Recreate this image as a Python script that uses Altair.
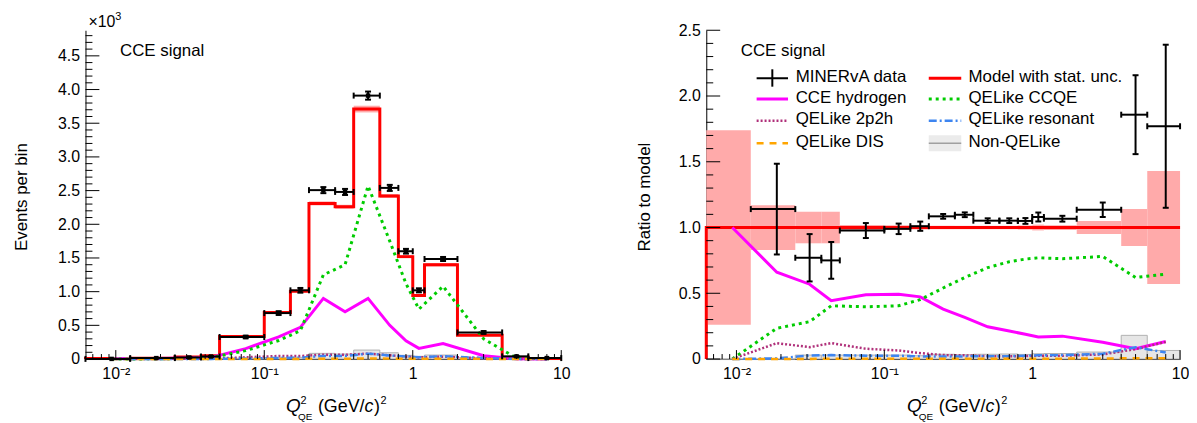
import altair as alt
import pandas as pd

FONT = "Liberation Sans"

# ---------------- data ----------------
edges = [0.00625, 0.0125, 0.025, 0.0375, 0.05, 0.1, 0.15, 0.2, 0.3, 0.4,
         0.6, 0.8, 1.0, 1.2, 2.0, 4.0, 6.0, 10.0]
centers = [0.009375, 0.01875, 0.03125, 0.04375, 0.075, 0.125, 0.175, 0.25,
           0.35, 0.5, 0.7, 0.9, 1.1, 1.6, 3.0, 5.0, 8.0]

# left panel, events per bin (x10^3)
model = [0.008, 0.012, 0.030, 0.050, 0.335, 0.689, 1.007, 2.31, 2.26, 3.71,
         2.42, 1.52, 0.944, 1.40, 0.354, 0.022, 0.008]
model_err = [0.006, 0.002, 0.004, 0.006, 0.007, 0.012, 0.015, 0.03, 0.03, 0.05,
             0.03, 0.025, 0.02, 0.025, 0.012, 0.003, 0.003]
data = [0.002, 0.0137, 0.023, 0.0375, 0.327, 0.682, 1.02, 2.507, 2.48, 3.91,
        2.54, 1.60, 1.02, 1.485, 0.395, 0.04, 0.014]
data_err = [0.002, 0.004, 0.005, 0.006, 0.019, 0.028, 0.035, 0.045, 0.045, 0.06,
            0.045, 0.035, 0.03, 0.03, 0.02, 0.007, 0.005]
hydrogen = [0.008, 0.008, 0.017, 0.022, 0.155, 0.33, 0.47, 0.90, 0.70, 0.90,
            0.50, 0.27, 0.158, 0.23, 0.05, 0.004, 0.001]
ccqe = [0.0, 0.003, 0.009, 0.02, 0.125, 0.275, 0.42, 1.25, 1.40, 2.57,
        1.75, 1.12, 0.74, 1.08, 0.30, 0.014, 0.005]
twop2h = [0.0, 0.0015, 0.003, 0.006, 0.026, 0.045, 0.045, 0.065, 0.063, 0.08,
          0.055, 0.035, 0.024, 0.035, 0.012, 0.0017, 0.001]
resonant = [0.0, 0.0, 0.001, 0.0015, 0.008, 0.017, 0.02, 0.046, 0.045, 0.08,
            0.053, 0.038, 0.026, 0.042, 0.014, 0.002, 0.0004]
dis = [0.0, 0.0, 0.0, 0.0, 0.001, 0.002, 0.002, 0.005, 0.005, 0.008,
       0.006, 0.004, 0.003, 0.005, 0.002, 0.0002, 0.0001]
nonqe = [0.0, 0.0, 0.001, 0.002, 0.01, 0.02, 0.025, 0.084, 0.074, 0.133,
         0.093, 0.055, 0.04, 0.059, 0.019, 0.004, 0.0005]

# right panel, ratio to model
r_model = [1.0, 1.0, 1.0, 1.0, 1.0, 1.0, 1.0, 1.0, 1.0, 1.0, 1.0, 1.0, 1.0,
           1.0, 1.0, 1.0, 1.0]
r_band = [0.74, 0.17, 0.12, 0.12, 0.02, 0.018, 0.015, 0.013, 0.013, 0.013,
          0.013, 0.016, 0.022, 0.018, 0.05, 0.14, 0.43]
r_data = [float("nan"), 1.14, 0.77, 0.75, 0.977, 0.99, 1.01, 1.085, 1.097, 1.052,
          1.052, 1.05, 1.08, 1.067, 1.135, 1.858, 1.77]
r_data_err = [float("nan"), 0.345, 0.18, 0.14, 0.057, 0.04, 0.035, 0.018, 0.018,
              0.018, 0.018, 0.022, 0.034, 0.022, 0.055, 0.30, 0.62]
r_hydrogen = [1.0, 0.66, 0.569, 0.443, 0.488, 0.493, 0.473, 0.38, 0.317, 0.245,
              0.213, 0.188, 0.167, 0.174, 0.128, 0.078, 0.133]
r_ccqe = [0.0, 0.234, 0.284, 0.405, 0.397, 0.405, 0.452, 0.54, 0.62, 0.695,
          0.74, 0.76, 0.77, 0.763, 0.78, 0.62, 0.645]
r_2p2h = [0.0, 0.121, 0.09, 0.121, 0.078, 0.065, 0.045, 0.03, 0.028, 0.022,
          0.022, 0.022, 0.025, 0.025, 0.035, 0.075, 0.13]
r_res = [0.0, 0.005, 0.027, 0.03, 0.025, 0.025, 0.02, 0.02, 0.02, 0.022,
         0.022, 0.025, 0.028, 0.03, 0.04, 0.09, 0.05]
r_dis = [0.0, 0.0, 0.001, 0.002, 0.002, 0.002, 0.002, 0.002, 0.002, 0.002,
         0.002, 0.002, 0.003, 0.003, 0.004, 0.006, 0.006]
r_nonqe = [0.0, 0.0, 0.03, 0.03, 0.03, 0.03, 0.025, 0.036, 0.033, 0.036,
           0.038, 0.035, 0.04, 0.042, 0.053, 0.18, 0.065]

# tick positions
x_major = [0.01, 0.1, 1, 10]
x_minor = [0.007, 0.008, 0.009, 0.02, 0.03, 0.04, 0.05, 0.06, 0.07, 0.08, 0.09,
           0.2, 0.3, 0.4, 0.5, 0.6, 0.7, 0.8, 0.9, 2, 3, 4, 5, 6, 7, 8, 9]
yl_major = [0, 0.5, 1.0, 1.5, 2.0, 2.5, 3.0, 3.5, 4.0, 4.5]
yl_minor = [round(0.1 * i, 1) for i in range(0, 49)]
yr_major = [0, 0.5, 1.0, 1.5, 2.0, 2.5]
yr_minor = [round(0.1 * i, 1) for i in range(0, 26)]

# ---------------- layout / style ----------------
WL, WR, H = 479, 477, 331
RED = "#ff0000"
BAND = "#ffaaaa"
MAG = "#ff00ff"
GREEN = "#00cc00"
PURPLE = "#b0307a"
BLUE = "#3d85f0"
ORANGE = "#ffa500"
GFILL = "#e6e6e6"
GLINE = "#b0b0b0"

SUP2 = "\u00b2"
SUPM = "\u207b"
SUP1 = "\u00b9"

xscale = alt.Scale(type="log", domain=[edges[0], edges[-1]], nice=False)
xaxis = alt.Axis(
    values=x_major,
    labelExpr=("datum.value < 0.05 ? '10" + SUPM + SUP2 + "' : datum.value < 0.5 ? '10"
               + SUPM + SUP1 + "' : datum.value < 5 ? '1' : '10'"),
    ticks=False, grid=False, title=None, domainColor="black", domainWidth=1,
    labelFontSize=16, labelFont=FONT, labelColor="black", labelPadding=7,
    labelFlush=False, labelOverlap=False,
)

dummy = pd.DataFrame({"a": [0]})


def xenc(f):
    return alt.X(f"{f}:Q", scale=xscale, axis=xaxis)


def step_df(vals):
    rows = [{"x": edges[0], "y": 0.0, "o": 0}]
    k = 1
    for i, v in enumerate(vals):
        rows.append({"x": edges[i], "y": v, "o": k})
        rows.append({"x": edges[i + 1], "y": v, "o": k + 1})
        k += 2
    return pd.DataFrame(rows)


def text(t, x, y, size=17, align="left", baseline="middle", angle=0, style="normal"):
    kw = dict(text=t, align=align, baseline=baseline, fontSize=size, font=FONT,
              color="black", fontStyle=style)
    if angle:
        kw["angle"] = angle
    return alt.Chart(dummy).mark_text(**kw).encode(x=alt.value(x), y=alt.value(y))


def xtitle(x0, yb):
    return [
        text("Q", x0, yb, size=19, baseline="alphabetic", style="italic"),
        text("2", x0 + 14.5, yb - 8, size=11, baseline="alphabetic"),
        text("QE", x0 + 12, yb + 8, size=10, baseline="alphabetic"),
        text("(GeV/", x0 + 32, yb, size=18, baseline="alphabetic"),
        text("c", x0 + 79, yb, size=18, baseline="alphabetic", style="italic"),
        text(")", x0 + 88.5, yb, size=18, baseline="alphabetic"),
        text("2", x0 + 95, yb - 8, size=11, baseline="alphabetic"),
    ]


def hseg(x1, x2, y, color, width=2.5, dash=None):
    kw = dict(color=color, strokeWidth=width)
    if dash:
        kw["strokeDash"] = dash
    return alt.Chart(dummy).mark_rule(**kw).encode(
        x=alt.value(x1), x2=alt.value(x2), y=alt.value(y))


def panel(W, ydom, ymaj, ymin, m_vals, m_err_lo, m_err_hi, d_df, comps, nq_vals,
          markers, extra):
    yscale = alt.Scale(domain=ydom, nice=False, zero=False)
    yaxis = alt.Axis(
        values=ymaj,
        labelExpr="datum.value == 0 ? '0' : format(datum.value, '.1f')",
        ticks=False, grid=False, title=None, domainColor="black", domainWidth=1,
        labelFontSize=16, labelFont=FONT, labelColor="black", labelPadding=6,
        labelOverlap=False, labelFlush=False,
    )

    def yenc(f):
        return alt.Y(f"{f}:Q", scale=yscale, axis=yaxis)

    hist = pd.DataFrame({"lo": edges[:-1], "hi": edges[1:], "c": centers,
                         "blo": m_err_lo, "bhi": m_err_hi, "nq": nq_vals,
                         "zero": [0.0] * len(centers)})
    layers = []
    layers.append(alt.Chart(hist).mark_rect(fill=GFILL, stroke=GLINE, strokeWidth=1)
                  .encode(x=xenc("lo"), x2="hi", y=yenc("zero"), y2="nq"))
    layers.append(alt.Chart(hist).mark_rect(fill=BAND)
                  .encode(x=xenc("lo"), x2="hi", y=yenc("blo"), y2="bhi"))
    layers.append(alt.Chart(step_df(m_vals)).mark_line(color=RED, strokeWidth=3)
                  .encode(x=xenc("x"), y=yenc("y"), order="o:Q"))
    for vals, color, dash, width in comps:
        cdf = pd.DataFrame({"c": centers, "v": vals})
        kw = dict(color=color, strokeWidth=width)
        if dash:
            kw["strokeDash"] = dash
        layers.append(alt.Chart(cdf).mark_line(**kw).encode(x=xenc("c"), y=yenc("v")))
    # data
    base = alt.Chart(d_df)
    layers.append(base.mark_rule(color="black", strokeWidth=2)
                  .encode(x=xenc("lo"), x2="hi", y=yenc("d")))
    layers.append(base.mark_rule(color="black", strokeWidth=2)
                  .encode(x=xenc("c"), y=yenc("dlo"), y2="dhi"))
    for f in ("lo", "hi"):
        layers.append(base.mark_tick(orient="vertical", size=6, thickness=2, color="black", opacity=1)
                      .encode(x=xenc(f), y=yenc("d")))
    for f in ("dlo", "dhi"):
        layers.append(base.mark_tick(orient="horizontal", size=6, thickness=2, color="black", opacity=1)
                      .encode(x=xenc("c"), y=yenc(f)))
    if markers:
        layers.append(base.mark_square(size=20, color="black", opacity=1, filled=True)
                      .encode(x=xenc("c"), y=yenc("d")))
    # inner ticks
    ymaj_df = pd.DataFrame({"t": ymaj})
    ymin_df = pd.DataFrame({"t": [v for v in ymin if v not in ymaj]})
    layers.append(alt.Chart(ymin_df).mark_rule(color="black", strokeWidth=1)
                  .encode(y=yenc("t"), x=alt.value(0), x2=alt.value(7)))
    layers.append(alt.Chart(ymaj_df).mark_rule(color="black", strokeWidth=1)
                  .encode(y=yenc("t"), x=alt.value(0), x2=alt.value(14)))
    xmaj_df = pd.DataFrame({"t": x_major})
    xmin_df = pd.DataFrame({"t": x_minor})
    layers.append(alt.Chart(xmin_df).mark_rule(color="black", strokeWidth=1)
                  .encode(x=xenc("t"), y=alt.value(H), y2=alt.value(H - 5)))
    layers.append(alt.Chart(xmaj_df).mark_rule(color="black", strokeWidth=1)
                  .encode(x=xenc("t"), y=alt.value(H), y2=alt.value(H - 9)))
    layers.extend(extra)
    return alt.layer(*layers).properties(width=W, height=H)


def data_df(d, e):
    df = pd.DataFrame({"lo": edges[:-1], "hi": edges[1:], "c": centers, "d": d, "e": e})
    df = df.dropna()
    df["dlo"] = df["d"] - df["e"]
    df["dhi"] = df["d"] + df["e"]
    return df


left_extra = [
    alt.Chart(dummy).mark_rect(color="white").encode(
        x=alt.value(-78), x2=alt.value(-77), y=alt.value(-21), y2=alt.value(-20)),
    text("\u00d710", 3, -3, size=16, baseline="alphabetic"),
    text("3", 30, -10, size=11, baseline="alphabetic"),
    text("CCE signal", 34.7, 21, size=17),
    text("Events per bin", -63.5, 168, size=17, align="center", angle=270),
] + xtitle(202, 384)

left = panel(
    WL, [0, 4.88], yl_major, yl_minor, model,
    [m - e for m, e in zip(model, model_err)], [m + e for m, e in zip(model, model_err)],
    data_df(data, data_err),
    [(hydrogen, MAG, None, 3), (ccqe, GREEN, [3, 4], 3), (twop2h, PURPLE, [2, 2], 2.5),
     (resonant, BLUE, [8, 3, 2, 3], 2.5), (dis, ORANGE, [7, 6], 2.5)],
    nonqe, True, left_extra,
)

# legend (right panel)
c1s, c1e, c1t = 50.7, 82.3, 90
c2s, c2e, c2t = 224, 256.7, 264
rows_sym = [48.3, 69.3, 91.0, 113.7]
rows_txt = [46.8, 67.8, 89.5, 112.2]
legend = [
    text("CCE signal", 34.7, 21, size=17),
    hseg(c1s, c1e, rows_sym[0], "black", 2),
    alt.Chart(dummy).mark_rule(color="black", strokeWidth=2).encode(
        x=alt.value((c1s + c1e) / 2), y=alt.value(rows_sym[0] - 9), y2=alt.value(rows_sym[0] + 8.5)),
    text("MINERvA data", c1t, rows_txt[0]),
    hseg(c1s, c1e, rows_sym[1], MAG, 3),
    text("CCE hydrogen", c1t, rows_txt[1]),
    hseg(c1s, c1e, rows_sym[2], PURPLE, 2.5, [2, 2]),
    text("QELike 2p2h", c1t, rows_txt[2]),
    hseg(c1s, c1e, rows_sym[3], ORANGE, 2.5, [7, 6]),
    text("QELike DIS", c1t, rows_txt[3]),
    hseg(c2s, c2e, rows_sym[0], RED, 3),
    text("Model with stat. unc.", c2t, rows_txt[0]),
    hseg(c2s, c2e, rows_sym[1], GREEN, 3, [3, 4]),
    text("QELike CCQE", c2t, rows_txt[1]),
    hseg(c2s, c2e, rows_sym[2], BLUE, 2.5, [8, 3, 2, 3]),
    text("QELike resonant", c2t, rows_txt[2]),
    alt.Chart(dummy).mark_rect(fill="#ebebeb").encode(
        x=alt.value(c2s), x2=alt.value(c2e), y=alt.value(rows_sym[3] - 8), y2=alt.value(rows_sym[3] + 8)),
    hseg(c2s, c2e, rows_sym[3], "#a0a0a0", 1.5),
    text("Non-QELike", c2t, rows_txt[3]),
    text("Ratio to model", -62, 168, size=17, align="center", angle=270),
] + xtitle(202, 384)

right = panel(
    WR, [0, 2.5], yr_major, yr_minor, r_model,
    [1 - e for e in r_band], [1 + e for e in r_band],
    data_df(r_data, r_data_err),
    [(r_hydrogen, MAG, None, 3), (r_ccqe, GREEN, [3, 4], 3), (r_2p2h, PURPLE, [2, 2], 2.5),
     (r_res, BLUE, [8, 3, 2, 3], 2.5), (r_dis, ORANGE, [7, 6], 2.5)],
    r_nonqe, False, legend,
)

chart = alt.hconcat(left, right, spacing=146, bounds="flush", padding=0,
                    background="white").configure_view(strokeWidth=0, stroke="transparent")

chart.save("out.html", embed_options={"renderer": "svg", "actions": False})
